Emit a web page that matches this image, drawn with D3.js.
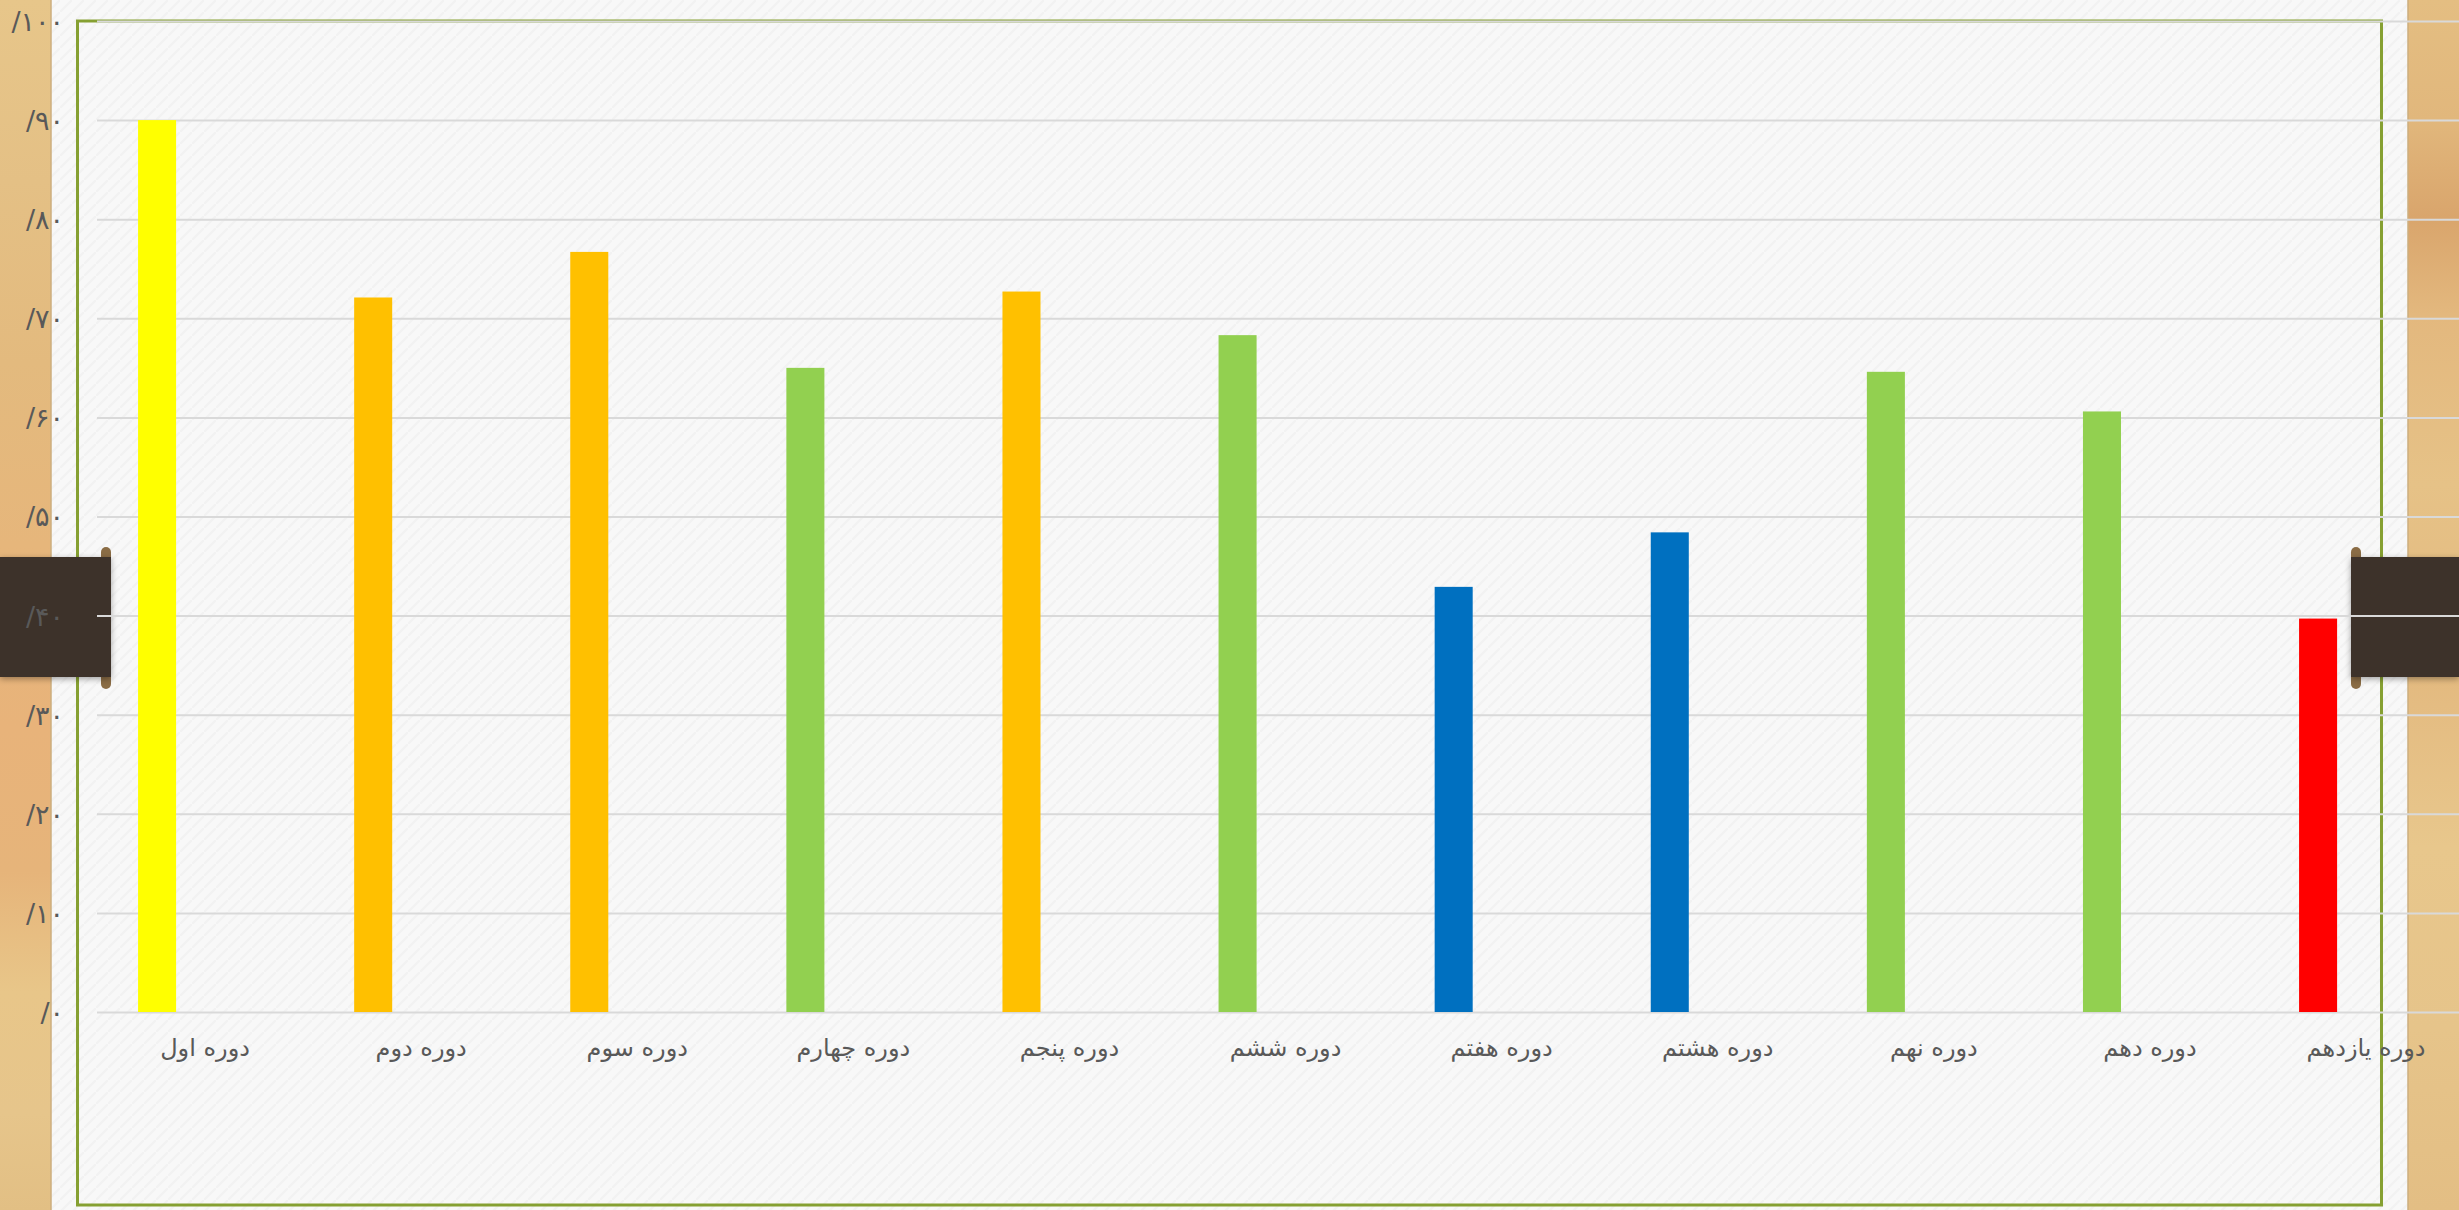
<!DOCTYPE html>
<html>
<head>
<meta charset="utf-8">
<script src="https://cdn.jsdelivr.net/npm/d3@7/dist/d3.min.js"></script>
<style>
  html, body { margin: 0; padding: 0; background: #E4BE82; }
  svg { display: block; }
</style>
</head>
<body>
<svg id="chart" width="2459" height="1210"></svg>
<script>
// ---- data ----
const categories = ["دوره اول","دوره دوم","دوره سوم","دوره چهارم","دوره پنجم","دوره ششم","دوره هفتم","دوره هشتم","دوره نهم","دوره دهم","دوره یازدهم"];
const values = [90, 72.1, 76.7, 65.0, 72.7, 68.3, 42.9, 48.4, 64.6, 60.6, 39.7];
const barColors = ["#FFFF00","#FFC000","#FFC000","#92D050","#FFC000","#92D050","#0070C0","#0070C0","#92D050","#92D050","#FF0000"];
const yTicks = [0,10,20,30,40,50,60,70,80,90,100];
const yTickLabels = ["/۰","/۱۰","/۲۰","/۳۰","/۴۰","/۵۰","/۶۰","/۷۰","/۸۰","/۹۰","/۱۰۰"];

// ---- layout ----
const W = 2459, H = 1210;
const svg = d3.select("#chart");
const defs = svg.append("defs");

// wood gradients
const woodL = defs.append("linearGradient").attr("id","woodL").attr("x1",0).attr("y1",0).attr("x2",0).attr("y2",1);
[[0,"#E7C68A"],[0.15,"#E4C085"],[0.3,"#E3BA7E"],[0.45,"#E6B67B"],[0.6,"#E8B37A"],[0.72,"#E6B47A"],[0.82,"#E8C689"],[0.92,"#E6C58B"],[1,"#E2BF84"]]
  .forEach(s => woodL.append("stop").attr("offset",s[0]).attr("stop-color",s[1]));
const woodR = defs.append("linearGradient").attr("id","woodR").attr("x1",0).attr("y1",0).attr("x2",0).attr("y2",1);
[[0,"#E4BE82"],[0.1,"#E1B77C"],[0.18,"#D9A56C"],[0.26,"#E3B87E"],[0.4,"#E6C287"],[0.55,"#E3B97F"],[0.7,"#E8C78C"],[0.85,"#E6C48A"],[1,"#E3BE84"]]
  .forEach(s => woodR.append("stop").attr("offset",s[0]).attr("stop-color",s[1]));

// paper texture pattern
const pat = defs.append("pattern").attr("id","paper").attr("patternUnits","userSpaceOnUse").attr("width",12).attr("height",12);
pat.append("rect").attr("width",12).attr("height",12).attr("fill","#F8F8F8");
pat.append("path").attr("d","M0,12 L12,0").attr("stroke","#F2F2F2").attr("stroke-width",2);

const shadow = defs.append("filter").attr("id","shadow").attr("x","-10%").attr("y","-20%").attr("width","130%").attr("height","150%");
shadow.append("feDropShadow").attr("dx",0).attr("dy",2).attr("stdDeviation",3).attr("flood-color","#000").attr("flood-opacity",0.35);

svg.append("rect").attr("x",0).attr("y",0).attr("width",W).attr("height",H).attr("fill","url(#woodL)");
svg.append("rect").attr("x",1230).attr("y",0).attr("width",W-1230).attr("height",H).attr("fill","url(#woodR)");

// paper
svg.append("rect").attr("x",51).attr("y",0).attr("width",2408-51).attr("height",H).attr("fill","url(#paper)");
svg.append("line").attr("x1",51).attr("x2",51).attr("y1",0).attr("y2",H).attr("stroke","#CDAE7E").attr("stroke-width",1.5);
svg.append("line").attr("x1",2408).attr("x2",2408).attr("y1",0).attr("y2",H).attr("stroke","#CDAE7E").attr("stroke-width",1.5);

// green frame
svg.append("rect").attr("x",77.5).attr("y",21).attr("width",2381.5-77.5).attr("height",1205-21)
  .attr("fill","none").attr("stroke","#86A032").attr("stroke-width",3);

// clips
function clip(x, w, tabX) {
  const g = svg.append("g");
  g.append("rect").attr("x",tabX-5).attr("y",547).attr("width",10).attr("height",22).attr("rx",5).attr("fill","#8A6C45");
  g.append("rect").attr("x",tabX-5).attr("y",667).attr("width",10).attr("height",22).attr("rx",5).attr("fill","#8A6C45");
  g.append("rect").attr("x",x).attr("y",557).attr("width",w).attr("height",120).attr("fill","#3C3229").attr("filter","url(#shadow)");
}
clip(0, 111, 106);
clip(2351, W-2351, 2356);

// scales
const y = d3.scaleLinear().domain([0,100]).range([1012,21]);
const x = d3.scaleBand().domain(categories).range([97, 97 + 216.1*categories.length]).paddingInner(0).paddingOuter(0);
const bw = x.bandwidth();

// gridlines
const grid = svg.append("g").attr("transform","translate(97,0)")
  .call(d3.axisRight(y).tickValues(yTicks).tickSize(W-97).tickFormat(""));
grid.select(".domain").remove();
grid.selectAll(".tick line").attr("stroke","#D9D9D9").attr("stroke-width",2);

// y labels
const yAx = svg.append("g").attr("transform","translate(64,0)")
  .call(d3.axisLeft(y).tickValues(yTicks).tickSize(0).tickPadding(0).tickFormat((d,i) => yTickLabels[i]));
yAx.select(".domain").remove();
yAx.selectAll("text").attr("font-family","DejaVu Sans").attr("font-size",27).attr("fill","#595959")
  .attr("direction","ltr").attr("dy","0.35em");

// bars
svg.append("g").selectAll("rect").data(values).join("rect")
  .attr("x",(d,i) => x(categories[i]) + bw*0.19)
  .attr("width", bw*0.176)
  .attr("y", d => y(d))
  .attr("height", d => y(0) - y(d))
  .attr("fill",(d,i) => barColors[i]);

// x labels
const xAx = svg.append("g").attr("transform",`translate(0,${y(0)})`)
  .call(d3.axisBottom(x).tickSize(0).tickPadding(0));
xAx.select(".domain").remove();
xAx.selectAll("text").attr("y",44).attr("dy",0).attr("font-family","DejaVu Sans").attr("font-size",24)
  .attr("fill","#595959").attr("direction","rtl").attr("text-anchor","middle");
</script>
</body>
</html>
